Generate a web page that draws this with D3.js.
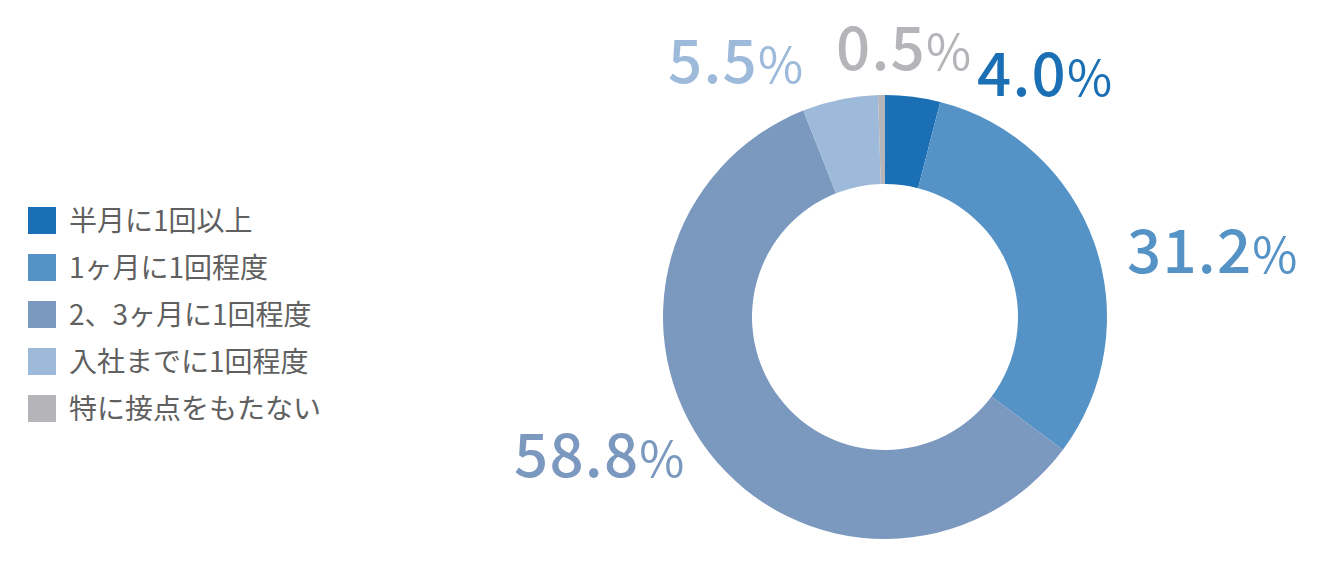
<!DOCTYPE html>
<html><head><meta charset="utf-8">
<script src="https://cdn.jsdelivr.net/npm/d3@7"></script>
<style>body{margin:0;background:#fff}svg{display:block}</style>
</head><body>
<svg id="c" width="1330" height="570"></svg>
<script>
const categories = ["半月に1回以上","1ヶ月に1回程度","2、3ヶ月に1回程度","入社までに1回程度","特に接点をもたない"];
const values = [4.0, 31.2, 58.8, 5.5, 0.5];
const colors = ["#1b6fb5","#5593c7","#7b98bf","#9ebadb","#b4b4b9"];
// label placement offsets relative to the donut centre (start anchor, baseline)
const labelOffsets = [[92,-221],[242,-44],[-371,160],[-217,-234],[-49,-247]];

const svg = d3.select("#c");
const font = "'Noto Sans CJK JP','Noto Sans',sans-serif";
const cx = 885, cy = 317, rOuter = 222, rInner = 133;

const pie = d3.pie().sort(null).value(d => d);
const arc = d3.arc().innerRadius(rInner).outerRadius(rOuter);
const g = svg.append("g").attr("transform", `translate(${cx},${cy})`);
g.selectAll("path").data(pie(values)).join("path")
  .attr("d", arc).attr("fill", (d,i) => colors[i]);

g.selectAll("text.lbl").data(values).join("text")
  .attr("class","lbl")
  .attr("x", (d,i) => labelOffsets[i][0])
  .attr("y", (d,i) => labelOffsets[i][1])
  .attr("fill", (d,i) => colors[i])
  .attr("font-family", font)
  .attr("font-weight", 500)
  .attr("font-size", 60)
  .attr("letter-spacing", 1.2)
  .each(function(d){
    const t = d3.select(this);
    t.append("tspan").text(d.toFixed(1));
    t.append("tspan").attr("font-size", 49).attr("font-weight", 400).text("%");
  });

const legend = svg.append("g").attr("transform","translate(28,207)");
const rows = legend.selectAll("g").data(categories).join("g")
  .attr("transform", (d,i) => `translate(0,${i*47})`);
rows.append("rect").attr("width",28).attr("height",27).attr("fill",(d,i)=>colors[i]);
rows.append("text").attr("x",41).attr("y",14).attr("dy","0.36em")
  .attr("font-family", font).attr("font-size",28).attr("fill","#606060")
  .text(d => d);
</script>
</body></html>
